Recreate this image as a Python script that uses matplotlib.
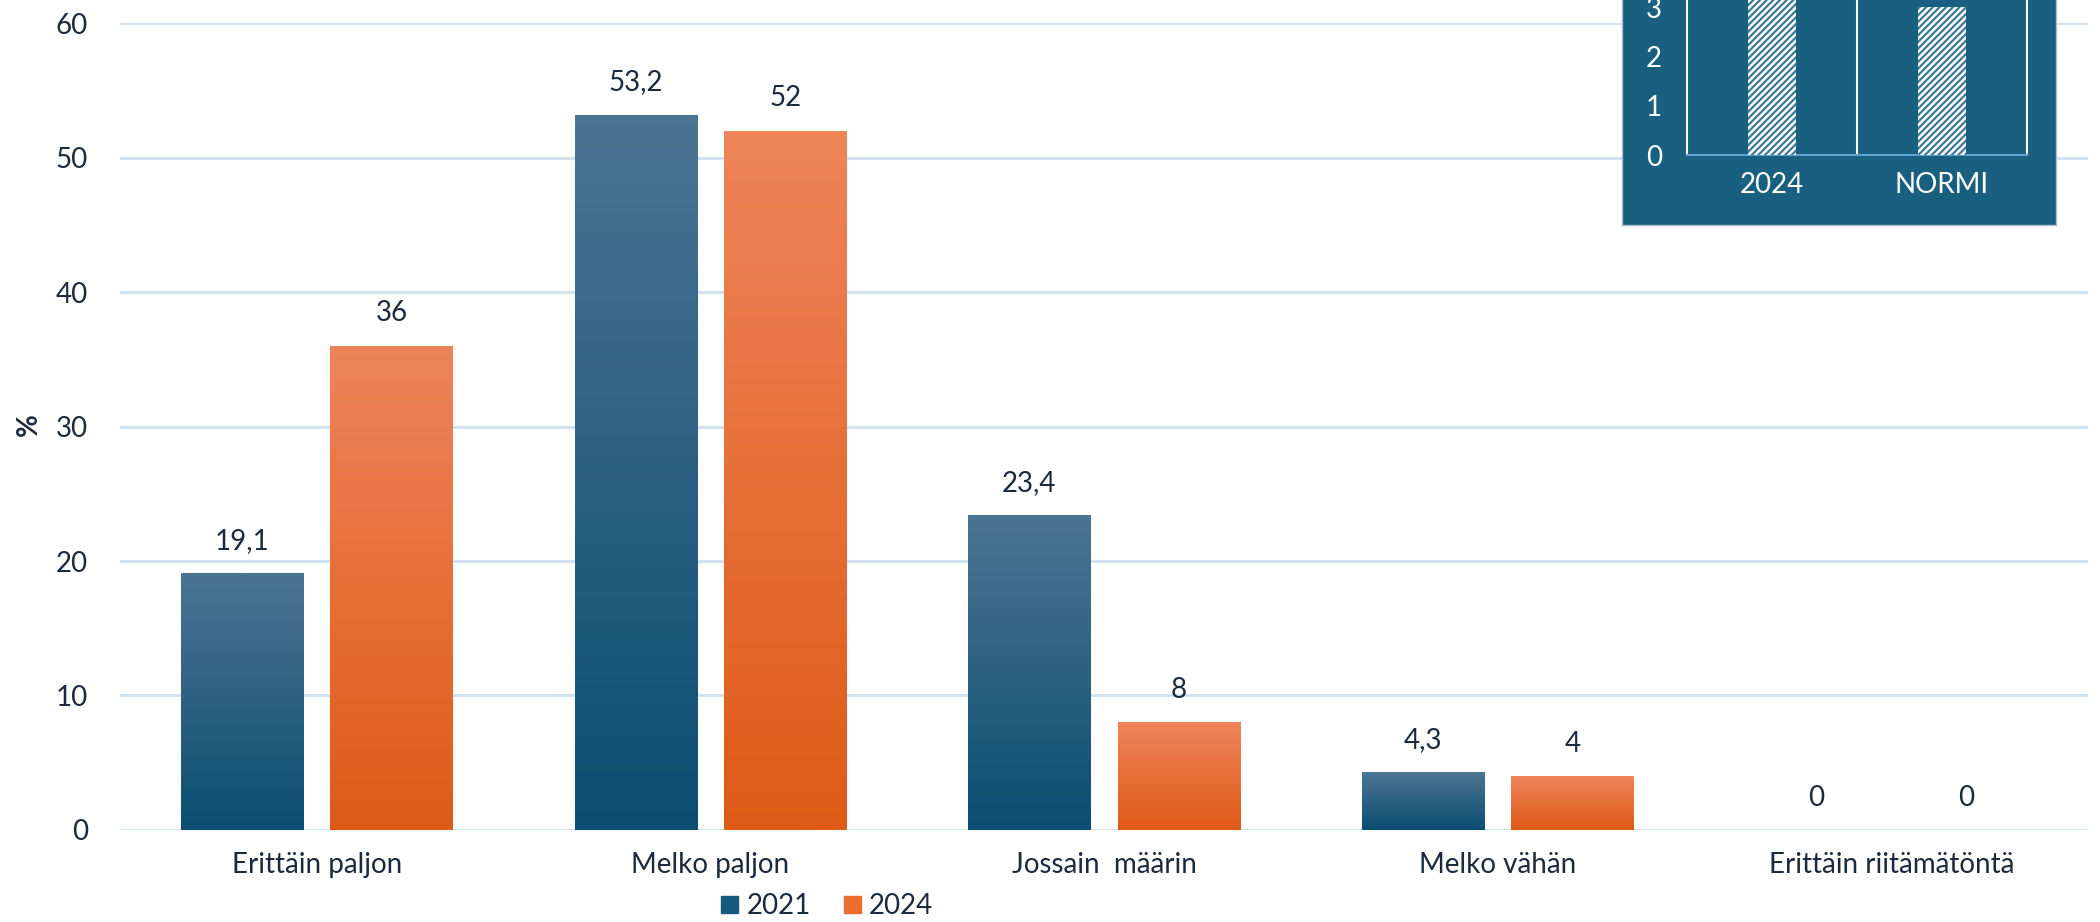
import numpy as np
import matplotlib
matplotlib.use('Agg')
import matplotlib.pyplot as plt
from matplotlib.colors import LinearSegmentedColormap
from matplotlib.patches import Patch

plt.rcParams['font.family'] = ['Lato', 'DejaVu Sans']
plt.rcParams['hatch.linewidth'] = 1.6

categories = ['Erittäin paljon', 'Melko paljon', 'Jossain  määrin', 'Melko vähän', 'Erittäin riitämätöntä']
vals_2021 = [19.1, 53.2, 23.4, 4.3, 0]
vals_2024 = [36, 52, 8, 4, 0]
labels_2021 = ['19,1', '53,2', '23,4', '4,3', '0']
labels_2024 = ['36', '52', '8', '4', '0']
series_names = ['2021', '2024']

inset_cats = ['2024', 'NORMI']
inset_vals = [3.4, 3.0]

txt = '#1b2a3d'
grid_col = '#cfe0f1'
blue_grad = LinearSegmentedColormap.from_list('b', ['#0b4e72', '#4c7493'])
orange_grad = LinearSegmentedColormap.from_list('o', ['#df5a17', '#ee845a'])

fig = plt.figure(figsize=(21, 9.22), dpi=100)
ax = fig.add_axes([0.0571, 0.0998, 0.9372, 0.8752])

x = np.arange(len(categories))
w = 0.31
off = 0.19

def gradient_bars(bars, cmap):
    grad = np.linspace(0, 1, 256).reshape(-1, 1)
    for b in bars:
        b.set_facecolor('none')
        b.set_edgecolor('none')
        h = b.get_height()
        if h <= 0:
            continue
        x0 = b.get_x()
        im = ax.imshow(grad, cmap=cmap, origin='lower', aspect='auto',
                       extent=[x0, x0 + b.get_width(), 0, h], zorder=3)
        im.set_clip_path(b)

b1 = ax.bar(x - off, vals_2021, w, zorder=3)
b2 = ax.bar(x + off, vals_2024, w, zorder=3)
gradient_bars(b1, blue_grad)
gradient_bars(b2, orange_grad)

for bars, labs in [(b1, labels_2021), (b2, labels_2024)]:
    for b, l in zip(bars, labs):
        ax.annotate(l, (b.get_x() + b.get_width() / 2, b.get_height()),
                    xytext=(0, 14), textcoords='offset points', ha='center', va='bottom',
                    fontsize=20, color=txt)

ax.set_xlim(-0.5, len(categories) - 0.5)
ax.set_ylim(0, 60)
ax.set_yticks(range(0, 61, 10))
ax.set_xticks(x)
ax.set_xticklabels(categories)
ax.tick_params(axis='y', length=0, pad=23, labelsize=20, labelcolor=txt)
ax.tick_params(axis='x', length=0, pad=16, labelsize=20, labelcolor=txt)
ax.grid(axis='y', color=grid_col, linewidth=2, zorder=0)
ax.set_axisbelow(True)
for s in ax.spines.values():
    s.set_visible(False)
fig.text(29 / 2100, 1 - 425 / 922, '%', rotation=90, fontsize=20, fontweight='bold',
         color=txt, ha='center', va='center')

handles = [Patch(color='#165a7e'), Patch(color='#eb6d30')]
fig.legend(handles, series_names, loc='center', bbox_to_anchor=(0.394, 0.017), ncol=2,
           frameon=False, fontsize=20, handlelength=0.6, handleheight=0.6,
           handletextpad=0.3, columnspacing=1.2, labelcolor=txt)

# inset box
bg = '#185f80'
box = fig.add_axes([1622 / 2100, 1 - 225 / 922, (2056 - 1622) / 2100, 300 / 922])
box.set_facecolor(bg)
box.set_xticks([])
box.set_yticks([])
for s in box.spines.values():
    s.set_color('#a9bfd0')
    s.set_linewidth(1)

ins = fig.add_axes([1687 / 2100, 1 - 155 / 922, 340 / 2100, 197.2 / 922])
ins.set_facecolor(bg)
ib = ins.bar(np.arange(2), inset_vals, 0.28, color='white', edgecolor='#3d7a98',
             hatch='/////', linewidth=0, zorder=3)
ins.set_xlim(-0.5, 1.5)
ins.set_ylim(0, 4)
ins.set_yticks([0, 1, 2, 3])
ins.set_xticks([0, 1])
ins.set_xticklabels(inset_cats)
ins.axvline(0.5, color='white', linewidth=1.5)
ins.tick_params(axis='y', length=0, pad=18, labelsize=20, labelcolor='white')
ins.tick_params(axis='x', length=0, pad=12, labelsize=20, labelcolor='white')
ins.spines['left'].set_color('white')
ins.spines['right'].set_color('white')
ins.spines['top'].set_color('white')
ins.spines['bottom'].set_color('#5ea3d0')
for s in ins.spines.values():
    s.set_linewidth(1.5)

fig.savefig('out.png', dpi=100)
